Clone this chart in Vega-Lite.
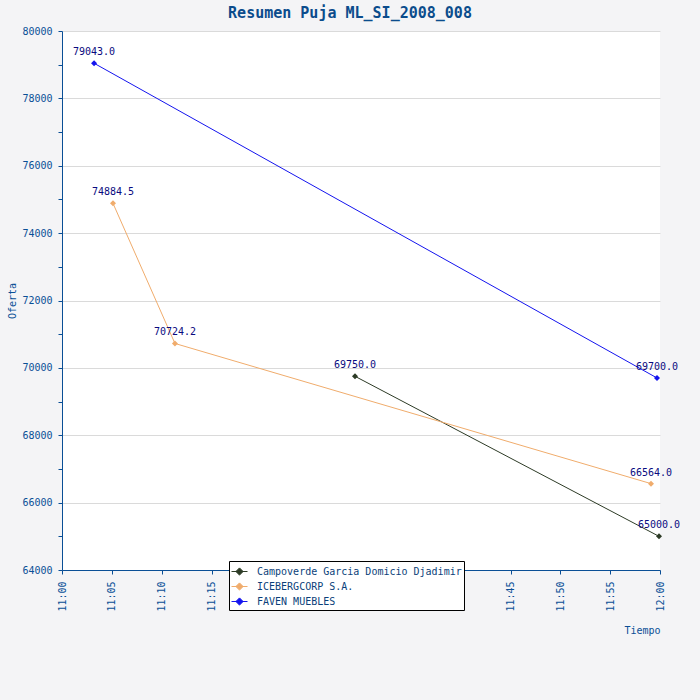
{
  "$schema": "https://vega.github.io/schema/vega-lite/v6.json",
  "width": 598,
  "height": 539,
  "autosize": "none",
  "padding": {"left": 62, "top": 31, "right": 40, "bottom": 130},
  "background": "#f4f4f6",
  "title": {
    "text": "Resumen Puja ML_SI_2008_008",
    "font": "DejaVu Sans Mono",
    "fontSize": 15,
    "fontWeight": "bold",
    "color": "#0b4c8c",
    "anchor": "middle",
    "dx": -11,
    "offset": 5
  },
  "data": {
    "values": [
      {"Postor": "Campoverde Garcia Domicio Djadimir", "Tiempo": "2008-01-01T11:29:24", "Oferta": 69750.0},
      {"Postor": "Campoverde Garcia Domicio Djadimir", "Tiempo": "2008-01-01T11:59:54", "Oferta": 65000.0},
      {"Postor": "ICEBERGCORP S.A.", "Tiempo": "2008-01-01T11:05:07", "Oferta": 74884.5},
      {"Postor": "ICEBERGCORP S.A.", "Tiempo": "2008-01-01T11:11:20", "Oferta": 70724.2},
      {"Postor": "ICEBERGCORP S.A.", "Tiempo": "2008-01-01T11:59:06", "Oferta": 66564.0},
      {"Postor": "FAVEN MUEBLES", "Tiempo": "2008-01-01T11:03:13", "Oferta": 79043.0},
      {"Postor": "FAVEN MUEBLES", "Tiempo": "2008-01-01T11:59:42", "Oferta": 69700.0}
    ]
  },
  "encoding": {
    "x": {
      "field": "Tiempo",
      "type": "temporal",
      "title": "Tiempo",
      "scale": {"domain": [
        {"year": 2008, "month": 1, "date": 1, "hours": 11, "minutes": 0},
        {"year": 2008, "month": 1, "date": 1, "hours": 12, "minutes": 0}
      ]},
      "axis": {
        "format": "%H:%M",
        "labelAngle": 270,
        "labelPadding": 7,
        "tickSize": 4,
        "grid": false,
        "titleAnchor": "end",
        "titlePadding": 14,
        "labelFlush": false
      }
    },
    "y": {
      "field": "Oferta",
      "type": "quantitative",
      "title": "Oferta",
      "scale": {"domain": [64000, 80000], "nice": false, "zero": false},
      "axis": {
        "values": [64000, 65000, 66000, 67000, 68000, 69000, 70000, 71000, 72000, 73000, 74000, 75000, 76000, 77000, 78000, 79000, 80000],
        "labelExpr": "datum.value % 2000 === 0 ? datum.label : ''",
        "tickSize": 4,
        "format": "d",
        "gridOpacity": {"condition": {"test": "datum.value % 2000 === 0", "value": 1}, "value": 0},
        "grid": true,
        "labelPadding": 6,
        "titlePadding": 4
      }
    }
  },
  "layer": [
    {
      "mark": {"type": "line", "strokeWidth": 1},
      "encoding": {
        "color": {
          "field": "Postor",
          "type": "nominal",
          "scale": {"domain": ["Campoverde Garcia Domicio Djadimir", "ICEBERGCORP S.A.", "FAVEN MUEBLES"], "range": ["#2d3b26", "#f0ac6c", "#1414ee"]},
          "legend": {
            "orient": "none",
            "legendX": 167,
            "legendY": 530,
            "fillColor": "white",
            "strokeColor": "black",
            "padding": 2,
            "symbolType": "M-1,0H1M0,-0.45L0.45,0L0,0.45L-0.45,0Z",
            "symbolSize": 256,
            "symbolStrokeWidth": 1,
            "labelOffset": 9,
            "labelLimit": 0,
            "labelFont": "DejaVu Sans Mono",
            "labelFontSize": 10,
            "labelColor": "#0b3f7a",
            "rowPadding": 0,
            "title": null,
            "encode": {
              "symbols": {"update": {"fill": {"field": "value", "scale": "color"}, "fillOpacity": {"value": 1}}}
            }
          }
        }
      }
    },
    {
      "mark": {"type": "point", "shape": "diamond", "filled": true, "size": 36, "opacity": 1},
      "encoding": {
        "color": {"field": "Postor", "type": "nominal"}
      }
    },
    {
      "mark": {"type": "text", "dy": -6, "font": "DejaVu Sans Mono", "fontSize": 10, "color": "#0a0a80", "baseline": "bottom"},
      "encoding": {
        "text": {"field": "Oferta", "type": "quantitative", "format": ".1f"}
      }
    }
  ],
  "config": {
    "view": {"fill": "white", "stroke": null},
    "axis": {
      "domainColor": "#0a4f96",
      "tickColor": "#0a4f96",
      "labelColor": "#0a4f96",
      "titleColor": "#0a4f96",
      "labelFont": "DejaVu Sans Mono",
      "titleFont": "DejaVu Sans Mono",
      "labelFontSize": 10,
      "titleFontSize": 10,
      "titleFontWeight": "normal",
      "gridColor": "#dadada"
    }
  }
}
